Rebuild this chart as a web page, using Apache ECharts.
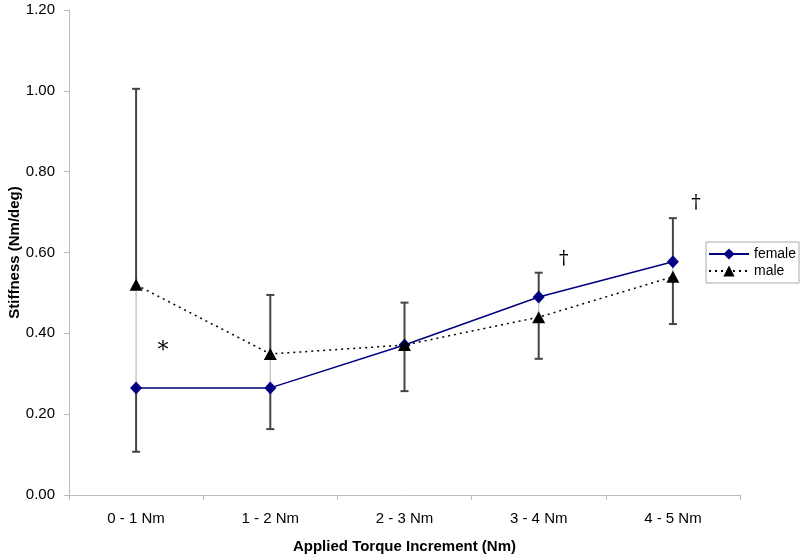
<!DOCTYPE html>
<html>
<head>
<meta charset="utf-8">
<script src="https://cdn.jsdelivr.net/npm/echarts@6/dist/echarts.min.js"></script>
<style>html,body{margin:0;padding:0;background:#fff;}#c{width:800px;height:556px;}</style>
</head>
<body>
<div id="c"></div>
<script>
var categories = ['0 - 1 Nm', '1 - 2 Nm', '2 - 3 Nm', '3 - 4 Nm', '4 - 5 Nm'];
var female = [0.265, 0.265, 0.371, 0.490, 0.577];
var male = [0.520, 0.349, 0.371, 0.440, 0.540];
var errTop = [1.005, 0.495, 0.476, 0.550, 0.685];
var errBottom = [0.107, 0.163, 0.257, 0.337, 0.423];
var annotCats = [0, 3, 4];
var annotValues = [0.366, 0.584, 0.723];
var annotTexts = ['*', '\u2020', '\u2020'];
var yTicks = [0, 0.2, 0.4, 0.6, 0.8, 1.0, 1.2];

var FONT = '"Liberation Sans", Arial, sans-serif';
var chart = echarts.init(document.getElementById('c'));

var errData = categories.map(function (c, i) {
  return [i, errBottom[i], errTop[i], Math.min(female[i], male[i]), Math.max(female[i], male[i])];
});
var annData = annotCats.map(function (c, i) { return [c, annotValues[i], annotTexts[i]]; });
var annOffsets = [27, 25, 23];
var annSizes = [22, 19, 19];
var annDy = [4, 0, 0];

chart.setOption({
  animation: false,
  backgroundColor: '#fff',
  grid: { left: 69, right: 60, top: 10, bottom: 61, containLabel: false, outerBoundsMode: 'none' },
  legend: {
    orient: 'vertical',
    left: 706, top: 242,
    padding: [5, 3, 5, 2],
    itemGap: 3,
    itemWidth: 40, itemHeight: 14,
    borderColor: '#aaa', borderWidth: 1,
    textStyle: { fontFamily: FONT, fontSize: 14, color: '#000' },
    data: ['female', 'male']
  },
  xAxis: {
    type: 'category',
    data: categories,
    boundaryGap: true,
    axisLine: { lineStyle: { color: '#bbb', width: 1 } },
    axisTick: { show: true, length: 5, inside: false, lineStyle: { color: '#bbb' } },
    axisLabel: { fontFamily: FONT, fontSize: 15, color: '#000', margin: 16 },
    name: 'Applied Torque Increment (Nm)',
    nameLocation: 'middle',
    nameGap: 44,
    nameMoveOverlap: false,
    nameTextStyle: { fontFamily: FONT, fontSize: 15, fontWeight: 'bold', color: '#000' },
    splitLine: { show: false }
  },
  yAxis: {
    type: 'value',
    min: 0, max: 1.2, interval: 0.2,
    axisLine: { show: true, lineStyle: { color: '#bbb', width: 1 } },
    axisTick: { show: true, length: 5, lineStyle: { color: '#bbb' } },
    axisLabel: { fontFamily: FONT, fontSize: 15, color: '#000', margin: 14,
      formatter: function (v) { return v.toFixed(2); } },
    splitLine: { show: false },
    name: 'Stiffness (Nm/deg)',
    nameLocation: 'middle',
    nameGap: 47,
    nameMoveOverlap: false,
    nameTextStyle: { fontFamily: FONT, fontSize: 15, fontWeight: 'bold', color: '#000' }
  },
  series: [
    {
      type: 'custom',
      name: 'err',
      silent: true,
      z: 1,
      data: errData,
      renderItem: function (params, api) {
        var x = api.value(0);
        var pb = api.coord([x, api.value(1)]);
        var pt = api.coord([x, api.value(2)]);
        var plo = api.coord([x, api.value(3)]);
        var phi = api.coord([x, api.value(4)]);
        var cw = 4;
        var dark = { stroke: '#444', lineWidth: 2 };
        return {
          type: 'group',
          children: [
            { type: 'line', shape: { x1: phi[0], y1: phi[1], x2: plo[0], y2: plo[1] }, style: { stroke: '#c8c8c8', lineWidth: 1.5 } },
            { type: 'line', shape: { x1: pt[0], y1: pt[1], x2: phi[0], y2: phi[1] }, style: dark },
            { type: 'line', shape: { x1: pb[0], y1: pb[1], x2: plo[0], y2: plo[1] }, style: dark },
            { type: 'line', shape: { x1: pt[0] - cw, y1: pt[1], x2: pt[0] + cw, y2: pt[1] }, style: dark },
            { type: 'line', shape: { x1: pb[0] - cw, y1: pb[1], x2: pb[0] + cw, y2: pb[1] }, style: dark }
          ]
        };
      }
    },
    {
      type: 'line',
      name: 'female',
      data: female,
      z: 3,
      symbol: 'diamond',
      symbolSize: [12, 13],
      lineStyle: { color: '#000080', width: 1.5, type: 'solid' },
      itemStyle: { color: '#000080' },
      emphasis: { disabled: true }
    },
    {
      type: 'line',
      name: 'male',
      data: male,
      z: 4,
      symbol: 'triangle',
      symbolSize: [13, 12],
      lineStyle: { color: '#000', width: 1.5, type: [2, 4] },
      itemStyle: { color: '#000' },
      emphasis: { disabled: true }
    },
    {
      type: 'custom',
      name: 'annot',
      silent: true,
      z: 5,
      data: annData,
      renderItem: function (params, api) {
        var i = params.dataIndex;
        var p = api.coord([api.value(0), api.value(1)]);
        return {
          type: 'text',
          x: p[0] + annOffsets[i],
          y: p[1] + annDy[i],
          style: { text: annData[i][2], fontFamily: '"DejaVu Serif", "Liberation Serif", serif', fontSize: annSizes[i], fill: '#000', align: 'center', verticalAlign: 'middle' }
        };
      }
    }
  ]
});
</script>
</body>
</html>
